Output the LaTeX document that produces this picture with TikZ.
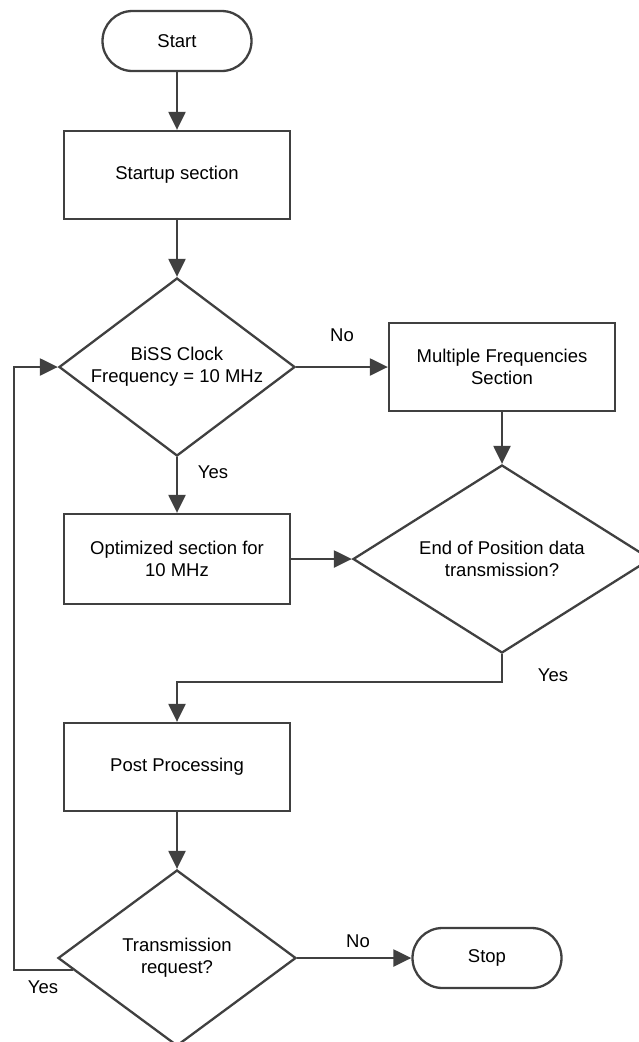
\documentclass[tikz,border=0pt]{standalone}
\usepackage{fontspec}
\setmainfont{Liberation Sans}
\usepackage{tikz}
\usetikzlibrary{positioning, arrows.meta, calc, shapes.geometric}
\definecolor{flowgray}{RGB}{64,64,64}
\tikzset{
    terminal/.style={draw=flowgray, line width=2.3pt, rectangle, rounded corners=30pt,
        minimum width=149pt, minimum height=60pt, inner sep=0pt},
    process/.style={draw=flowgray, line width=2.3pt, rectangle, align=center,
        minimum width=226pt, minimum height=88pt, inner sep=0pt},
    decision/.style={draw=flowgray, line width=2.3pt, diamond, align=center, inner sep=0pt},
    flow/.style={draw=flowgray, line width=2.3pt, -{Triangle[length=18pt, width=17pt]}},
    wire/.style={draw=flowgray, line width=2.3pt}
}
\begin{document}
\begin{tikzpicture}[x=1pt, y=-1pt, font=\fontsize{18.5}{22}\selectfont]
    \useasboundingbox (0,0) rectangle (639,1042);

    % blocks
    \node[terminal] (start) at (177,41) {Start};
    \node[process] (startup) at (177,175) {Startup section};
    \node[decision, minimum width=236pt, minimum height=178pt, aspect=1.33]
        (clk) at (177,367) {BiSS Clock\\Frequency = 10 MHz};
    \node[process] (multi) at (502,367) {Multiple Frequencies\\Section};
    \node[process, minimum height=90pt] (opt) at (177,559) {Optimized section for\\10 MHz};
    \node[decision, minimum width=298pt, minimum height=188pt, aspect=1.58]
        (end) at (502,559) {End of Position data\\transmission?};
    \node[process] (post) at (177,767) {Post Processing};
    \node[decision, minimum width=238pt, minimum height=176pt, aspect=1.35]
        (tx) at (177,958) {Transmission\\request?};
    \node[terminal] (stop) at (487,958) {Stop};

    % labels
    \node (noA) at (342,335) {No};
    \node (yesA) at (213,472) {Yes};
    \node (yesB) at (553,675) {Yes};
    \node (noB) at (358,941) {No};
    \node (yesC) at (43,987) {Yes};

    % straight arrows down
    \foreach \from/\to in {start/startup, startup/clk, clk/opt, multi/end, post/tx}
    {
        \draw[flow] (\from.south) -- (\to.north);
    }

    % arrows to the right
    \foreach \from/\to in {clk/multi, opt/end, tx/stop}
    {
        \draw[flow] (\from.east) -- (\to.west);
    }

    % join back to post processing
    \draw[flow] (end.south) |- ([yshift=40pt]post.north) -- (post.north);

    % loop back
    \coordinate (back) at ($(tx.west)!0.136!(tx.south)$);
    \coordinate (loopcorner) at (14,367);
    \draw[flow] (back) -| (loopcorner) -- (clk.west);
\end{tikzpicture}
\end{document}
